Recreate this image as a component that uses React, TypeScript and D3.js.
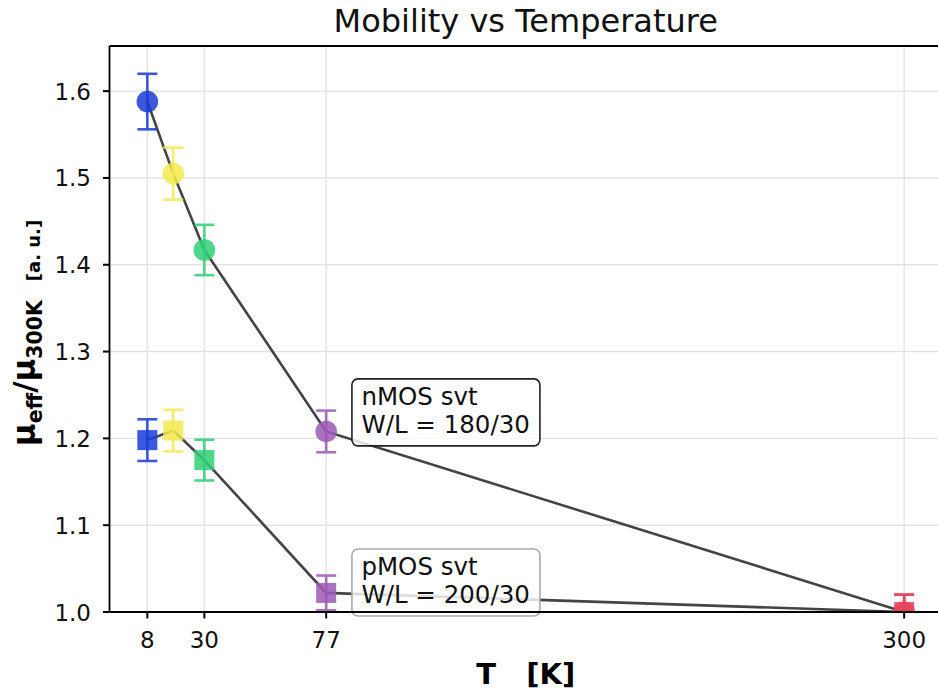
import React from "react";
import * as d3 from "d3";

const temps = [8, 18, 30, 77, 300];
const nmosMu = [1.588, 1.505, 1.417, 1.208, 1.0];
const nmosErr = [0.032, 0.03, 0.029, 0.024, 0.02];
const pmosMu = [1.198, 1.209, 1.175, 1.022, 1.0];
const pmosErr = [0.024, 0.024, 0.0235, 0.02, 0.02];
const pointColors = ["#1a3cd8", "#f3ea50", "#2fcf77", "#9b59b6", "#e8435a"];
const xTicks = [8, 30, 77, 300];
const yTicks = [1.0, 1.1, 1.2, 1.3, 1.4, 1.5, 1.6];
const annotations = [
  { lines: ["nMOS svt", "W/L = 180/30"], x: 90.6, y: 1.23, border: "#222" },
  { lines: ["pMOS svt", "W/L = 200/30"], x: 90.6, y: 1.034, border: "#aaa" },
];

const W = 938;
const H = 693;
const left = 109.5;
const right = 942;
const top = 46;
const bottom = 612;
const FONT = "DejaVu Sans";

export default function App() {
  const x = d3.scaleLinear().domain([-6.6, 314.6]).range([left, right]);
  const y = d3.scaleLinear().domain([1.0, 1.652]).range([bottom, top]);
  const line = d3
    .line<[number, number]>()
    .x((d) => x(d[0]))
    .y((d) => y(d[1]));
  const nPts = temps.map((t, i) => [t, nmosMu[i]] as [number, number]);
  const pPts = temps.map((t, i) => [t, pmosMu[i]] as [number, number]);
  const cx = (left + right) / 2;
  const cy = (top + bottom) / 2;

  const errBar = (t: number, v: number, e: number, c: string, key: string) => (
    <g key={key} stroke={c} strokeWidth={2.6} opacity={0.85}>
      <line x1={x(t)} x2={x(t)} y1={y(v - e)} y2={y(v + e)} />
      <line x1={x(t) - 10} x2={x(t) + 10} y1={y(v - e)} y2={y(v - e)} />
      <line x1={x(t) - 10} x2={x(t) + 10} y1={y(v + e)} y2={y(v + e)} />
    </g>
  );

  return (
    <svg
      width={W}
      height={H}
      style={{ position: "absolute", left: 0, top: 0, background: "#fff" }}
      fontFamily={FONT}
    >
      <defs>
        <clipPath id="plot">
          <rect x={left} y={top} width={right - left} height={bottom - top} />
        </clipPath>
      </defs>
      <rect width={W} height={H} fill="#fff" />
      {/* grid */}
      <g stroke="#e3e3e3" strokeWidth={1.4}>
        {xTicks.map((t) => (
          <line key={"gx" + t} x1={x(t)} x2={x(t)} y1={top} y2={bottom} />
        ))}
        {yTicks.map((t) => (
          <line key={"gy" + t} x1={left} x2={right} y1={y(t)} y2={y(t)} />
        ))}
      </g>
      <g clipPath="url(#plot)">
        <path d={line(nPts) || ""} fill="none" stroke="#444" strokeWidth={2.6} />
        <path d={line(pPts) || ""} fill="none" stroke="#444" strokeWidth={2.6} />
        {temps.map((t, i) => errBar(t, nmosMu[i], nmosErr[i], pointColors[i], "en" + i))}
        {temps.map((t, i) => errBar(t, pmosMu[i], pmosErr[i], pointColors[i], "ep" + i))}
        {temps.map((t, i) => (
          <circle
            key={"c" + i}
            cx={x(t)}
            cy={y(nmosMu[i])}
            r={10.8}
            fill={pointColors[i]}
            opacity={0.85}
          />
        ))}
        {temps.map((t, i) => (
          <rect
            key={"s" + i}
            x={x(t) - 10}
            y={y(pmosMu[i]) - 10}
            width={20}
            height={20}
            fill={pointColors[i]}
            opacity={0.85}
          />
        ))}
      </g>
      {/* annotations */}
      {annotations.map((a, i) => {
        const tx = x(a.x);
        const ty = y(a.y);
        return (
          <g key={"a" + i}>
            <rect
              x={tx - 9.5}
              y={ty - 33.5}
              width={188}
              height={67}
              rx={6}
              fill="#fff"
              fillOpacity={0.82}
              stroke={a.border}
              strokeWidth={1.6}
            />
            <text x={tx} y={ty - 7} fontSize={24.5} fill="#111">
              {a.lines[0]}
            </text>
            <text x={tx} y={ty + 20.5} fontSize={24.5} fill="#111">
              {a.lines[1]}
            </text>
          </g>
        );
      })}
      {/* spines */}
      <g stroke="#000" strokeWidth={1.8} fill="none">
        <line x1={left} x2={right} y1={top} y2={top} />
        <line x1={left} x2={right} y1={bottom} y2={bottom} />
        <line x1={left} x2={left} y1={top} y2={bottom} />
      </g>
      {/* y ticks */}
      {yTicks.map((t) => (
        <g key={"yt" + t}>
          <line x1={left - 6.5} x2={left} y1={y(t)} y2={y(t)} stroke="#000" strokeWidth={2} />
          <text x={91} y={y(t) + 8.5} fontSize={23} textAnchor="end" fill="#111">
            {t.toFixed(1)}
          </text>
        </g>
      ))}
      {/* x ticks */}
      {xTicks.map((t) => (
        <g key={"xt" + t}>
          <line x1={x(t)} x2={x(t)} y1={bottom} y2={bottom + 6.5} stroke="#000" strokeWidth={2} />
          <text x={x(t)} y={648} fontSize={23} textAnchor="middle" fill="#111">
            {t}
          </text>
        </g>
      ))}
      {/* title */}
      <text x={cx} y={32} fontSize={32} textAnchor="middle" fill="#111">
        Mobility vs Temperature
      </text>
      {/* x label */}
      <text
        x={cx}
        y={684}
        fontSize={29}
        fontWeight="bold"
        textAnchor="middle"
        fill="#000"
        style={{ whiteSpace: "pre" }}
      >
        {"T   [K]"}
      </text>
      {/* y label */}
      <text
        transform={`translate(35,${cy + 4}) rotate(-90)`}
        textAnchor="middle"
        fontWeight="bold"
        fill="#000"
        style={{ whiteSpace: "pre" }}
      >
        <tspan fontSize={31}>μ</tspan>
        <tspan fontSize={20.5} dy={6.5}>eff</tspan>
        <tspan fontSize={31} dy={-6.5}>/μ</tspan>
        <tspan fontSize={20.5} dy={6.5}>300K</tspan>
        <tspan fontSize={18} dy={-2}>{"   [a. u.]"}</tspan>
      </text>
    </svg>
  );
}
